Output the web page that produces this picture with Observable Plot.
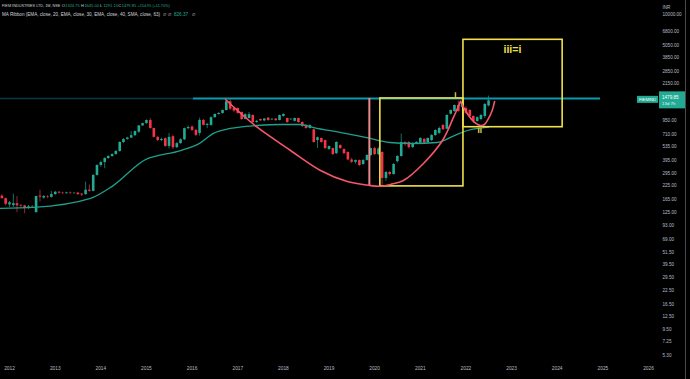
<!DOCTYPE html>
<html><head><meta charset="utf-8">
<script src="https://cdn.jsdelivr.net/npm/d3@7"></script>
<script src="https://cdn.jsdelivr.net/npm/@observablehq/plot@0.6"></script>
<style>
html,body{margin:0;padding:0;background:#000;overflow:hidden}
#chart{position:relative;width:690px;height:379px}
svg text{font-family:"Liberation Sans",Arial,sans-serif}
</style></head><body><div id="chart"></div>
<script>
// ---- Data (monthly candles Nov 2011 .. Jul 2022) ----
const firstMonth = "2011-11-01";
const open  = [180,170,148,146,152,145,145,137,142,125,180,172,178,175,186,196,192,190,193,191,192,188,186,205,200,284,354,378,413,432,451,483,589,630,650,685,740,850,895,958,803,660,615,640,540,670,525,575,625,800,830,770,720,960,860,860,1020,1095,1120,1196,1450,1250,1250,1144,985,1002,1070,917,980,950,1010,970,990,958,1050,1002,975,940,1002,917,860,803,780,615,644,615,505,515,460,551,505,472,400,380,395,362,395,442,515,451,472,266,303,290,385,432,589,589,527,575,580,630,585,615,687,720,858,790,1100,1170,1336,1280,1250,1196,1048,937,980,1048,1324.75];
const high  = [185,172,160,188,178,150,147,146,146,180,205,182,182,200,200,199,196,196,197,195,195,190,245,230,290,360,390,420,440,460,495,600,640,660,750,760,860,900,970,1000,810,670,650,650,720,690,585,640,810,850,850,790,1010,980,900,1040,1110,1140,1210,1470,1560,1280,1270,1160,1110,1144,1090,960,990,1000,1020,1000,1000,1080,1110,1010,1000,1010,1010,930,870,870,790,665,650,620,545,520,600,560,510,480,415,400,400,405,450,520,530,525,480,310,310,370,440,710,600,600,585,600,655,640,650,700,780,830,880,1090,1210,1350,1470,1530,1300,1220,1060,1040,1100,1400,1645];
const low   = [168,145,140,140,125,138,122,133,137,123,158,168,170,172,183,188,186,187,187,186,183,178,183,196,198,280,340,330,405,425,445,475,575,620,640,670,720,840,880,790,650,600,600,530,510,505,515,565,615,780,750,670,680,850,800,840,1010,1080,1100,1180,1200,1150,1100,960,970,990,900,900,940,930,940,960,940,950,1030,900,960,930,900,820,790,790,580,515,580,505,495,440,450,505,450,395,370,365,345,355,390,430,440,440,223,250,280,285,375,425,540,510,515,565,570,570,575,600,675,700,770,780,1080,1150,1150,1260,1100,1010,900,920,950,1000,1291.15];
const close = [170,150,155,152,145,143,137,142,141,178,176,178,176,186,196,192,190,193,191,192,186,184,205,200,284,354,378,413,432,451,483,589,630,650,685,750,850,895,958,803,660,615,630,540,660,525,575,625,800,820,770,690,960,860,880,1020,1095,1120,1196,1450,1230,1180,1120,980,1090,1090,917,940,950,990,958,985,955,1070,1095,917,985,1002,917,839,803,858,589,655,589,515,539,451,589,515,460,400,380,395,354,395,442,515,451,510,266,303,290,362,432,589,563,525,575,590,644,580,644,687,768,803,780,1070,1196,1336,1170,1427,1120,1048,937,1020,1070,1366,1479.85];

// Moving average (MA Ribbon, visible line)
const maDates  = ["2011-10-20","2012-07-10","2013-10-10","2014-04-10","2015-01-10","2015-03-01","2015-10-01","2016-03-01","2016-06-20","2016-11-01","2017-06-08","2017-12-10","2018-05-15","2018-09-01","2019-04-01","2019-10-20","2020-05-01","2020-11-01","2021-05-15","2021-10-01","2022-01-15","2022-07-01"];
const maValues = [137,140,171,227,413,430,493,577,720,803,858,877,877,820,735,660,589,576,589,687,768,826];

// Drawn cup arcs
const cup1Dates  = ["2016-09-25","2016-12-30","2017-06-08","2018-02-27","2018-10-25","2019-05-28","2019-11-28","2020-02-16","2020-05-08","2020-08-19","2021-01-26","2021-06-27","2021-09-23","2021-11-18"];
const cup1Values = [1525,1196,821,493,317,248,227,224,233,254,370,615,1025,1460];
const cup2Dates  = ["2021-11-18","2022-01-11","2022-03-02","2022-04-27","2022-05-29","2022-06-30","2022-07-30","2022-08-18"];
const cup2Values = [1460,1120,940,858,877,1000,1196,1460];

// Drawn lines & boxes
const resistance = 1560;
const resistanceStart = "2016-01-12", resistanceEnd = "2024-12-13", faintStart = "2011-06-01";
const markerDate = "2019-11-20", markerLow = 227, markerHigh = 1560;
const boxX1 = ["2020-02-16","2021-12-12"];
const boxX2 = ["2021-12-12","2024-02-14"];
const boxLow  = [223, 826];
const boxHigh = [1560, 5713];
const waveText   = ["i","ii","iii=i"];
const waveDates  = ["2021-10-09","2022-04-21","2023-01-08"];
const waveValues = [1703, 768, 4610];

// Axis ticks
const priceTicks = [10000,6800,5050,3850,2850,2150,1600,950,710,535,395,295,225,165,125,93,69,51.5,39.5,29.5,22.5,16.5,12.5,9.5,7.25,5.3];
const years = [2012,2013,2014,2015,2016,2017,2018,2019,2020,2021,2022,2023,2024,2025,2026];

// Header values
const symbolName = "FIEM INDUSTRIES LTD, 1M, NSE";
const ohlcLabels = ["O","H","L","C"];
const ohlcValues = ["1324.75","1645.00","1291.15","1479.85"];
const changeText = "+154.95 (+11.70%)";
const maTitle = "MA Ribbon (EMA, close, 20, EMA, close, 30, EMA, close, 40, SMA, close, 63)";
const maLast = "826.37";
const lastPrice = 1479.85, lastPriceText = "1479.85", countdown = "13d 7h", tickerTag = "FIEMIND";

// ---- Build ----
const D = s => new Date(s + "T00:00:00Z");
const months = d3.utcMonth.range(D(firstMonth), D("2022-08-01"));
const candles = months.map((d,i)=>({date:d, open:open[i], high:high[i], low:low[i], close:close[i], up: close[i] >= open[i]}));
const ma = maDates.map((d,i)=>({date:D(d), v:maValues[i]}));
const cup1 = cup1Dates.map((d,i)=>({date:D(d), v:cup1Values[i]}));
const cup2 = cup2Dates.map((d,i)=>({date:D(d), v:cup2Values[i]}));
const boxes = boxX1.map((d,i)=>({x1:D(d), x2:D(boxX2[i]), y1:boxLow[i], y2:boxHigh[i]}));
const waves = waveText.map((t,i)=>({t, date:D(waveDates[i]), v:waveValues[i]}));

const UP="#22ab94", DN="#f23645", UPW="#177a6b", DNW="#a8283a", YEL="#f0e04a", AX="#b8bcc6";

const chart = Plot.plot({
  width: 690, height: 379, margin: 0,
  style: {background: "#000", overflow: "hidden"},
  x: {type: "utc", domain: [D("2012-01-01"), D("2026-01-01")], range: [9, 648], axis: null},
  y: {type: "log", domain: [5.3, 10000], range: [354.9, 14], axis: null},
  marks: [
    Plot.ruleY([resistance], {x1: D(faintStart), x2: D(resistanceStart), stroke: "#0b3940", strokeWidth: 1.5}),
    Plot.ruleX(candles, {x: "date", y1: "low", y2: "high", stroke: d => d.up ? UPW : DNW, strokeWidth: 0.9}),
    Plot.ruleX(candles, {x: "date", y1: "open", y2: "close", stroke: d => d.up ? UP : DN, strokeWidth: 2.6}),
    Plot.line(ma, {x: "date", y: "v", curve: "monotone-x", stroke: "#1fa08c", strokeWidth: 1.3}),
    Plot.ruleY([resistance], {x1: D(resistanceStart), x2: D(resistanceEnd), stroke: "#0a9aad", strokeWidth: 2}),
    Plot.ruleX([D(markerDate)], {y1: markerLow, y2: markerHigh, stroke: "#e98a8c", strokeWidth: 2}),
    Plot.rect(boxes, {x1: "x1", x2: "x2", y1: "y1", y2: "y2", fill: "none", stroke: YEL, strokeWidth: 1.6}),
    Plot.line(cup1, {x: "date", y: "v", curve: "catmull-rom", stroke: "#f5566a", strokeWidth: 1.6}),
    Plot.line(cup2, {x: "date", y: "v", curve: "catmull-rom", stroke: "#f5566a", strokeWidth: 1.6}),
    Plot.text(waves.filter(d => d.t !== "iii=i"), {x: "date", y: "v", text: "t", fill: YEL, fontSize: 8, fontWeight: "bold"}),
    Plot.text(waves.filter(d => d.t === "iii=i"), {x: "date", y: "v", text: "t", fill: YEL, fontSize: 10.5, fontWeight: "bold"}),
    Plot.text(priceTicks, {y: d => d, text: d => d3.format(".2f")(d), frameAnchor: "right", dx: -28, textAnchor: "start", fill: AX, fontSize: 4.6}),
    Plot.text(["INR"], {frameAnchor: "top-right", dx: -28, dy: 5.5, textAnchor: "start", fill: AX, fontSize: 4.6}),
    Plot.text(years, {x: d => D(d + "-01-01"), text: d => String(d), frameAnchor: "bottom", dy: -10, fill: AX, fontSize: 4.8})
  ]
});
document.getElementById("chart").appendChild(chart);

// ---- Overlays: header, price tag, borders ----
const svg = d3.select(chart);
const py = chart.scale("y").apply(lastPrice);
const g = svg.append("g").attr("text-anchor", "start");
g.append("rect").attr("x", 637).attr("y", py - 4.5).attr("width", 21).attr("height", 7).attr("fill", UP);
g.append("text").attr("x", 647.5).attr("y", py - 1).attr("text-anchor", "middle").attr("dominant-baseline", "central")
  .attr("fill", "#fff").attr("font-size", 4.2).text(tickerTag);
g.append("rect").attr("x", 659).attr("y", py - 9).attr("width", 26).attr("height", 17).attr("fill", UP);
g.append("text").attr("x", 662).attr("y", py - 3).attr("text-anchor", "start").attr("dominant-baseline", "central").attr("fill", "#fff").attr("font-size", 4.6).text(lastPriceText);
g.append("text").attr("x", 662).attr("y", py + 3.5).attr("text-anchor", "start").attr("dominant-baseline", "central").attr("fill", "#e6f5f2").attr("font-size", 4.4).text(countdown);

const GR = "#d1d4dc";
function seg(x, y, s, fill, size) {
  g.append("text").attr("x", x).attr("y", y).attr("text-anchor", "start").attr("dominant-baseline", "central")
    .attr("fill", fill).attr("font-size", size).text(s);
}
// line 1
seg(2, 5.7, symbolName, GR, 3.8);
const ox = [61.8, 81, 100, 118.3];
ohlcLabels.forEach((l, i) => { seg(ox[i], 5.7, l, GR, 4); seg(ox[i] + 3.4, 5.7, ohlcValues[i], UP, 4); });
seg(137.5, 5.7, changeText, UP, 3.8);
// line 2
seg(2, 14.3, maTitle, GR, 4.6);
seg(163, 14.3, "∅", GR, 4.4); seg(168, 14.3, "∅", GR, 4.4);
seg(174, 14.3, maLast, UP, 4.6);
seg(192, 14.3, "∅", GR, 4.4);

g.append("line").attr("x1", 685.5).attr("x2", 685.5).attr("y1", 0).attr("y2", 379).attr("stroke", "#4a4a4a").attr("stroke-width", 1);
</script></body></html>
